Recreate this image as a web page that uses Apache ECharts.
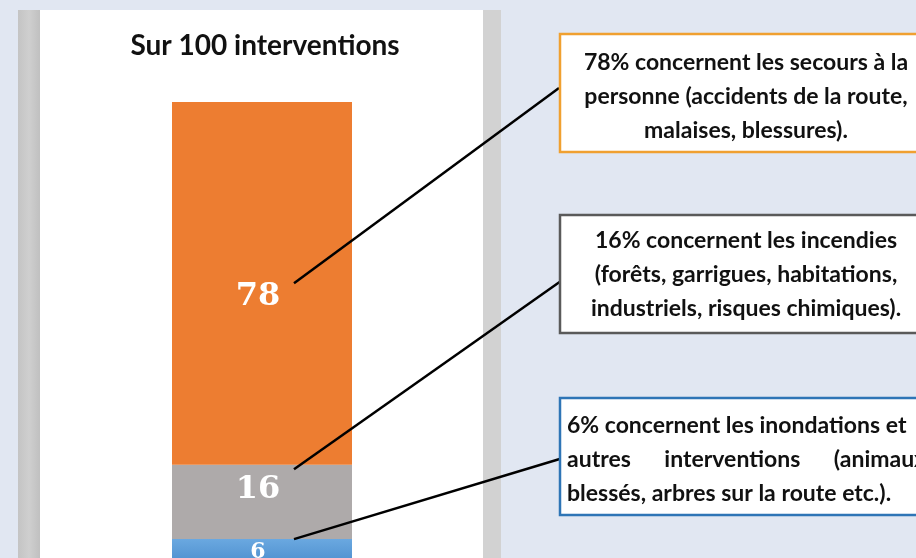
<!DOCTYPE html>
<html><head><meta charset="utf-8">
<script src="https://cdn.jsdelivr.net/npm/echarts@6/dist/echarts.min.js"></script>
<style>html,body{margin:0;padding:0;background:#e1e7f2;}#c{width:916px;height:558px;}</style>
</head><body><div id="c"></div>
<script>
const categories = ['Sur 100 interventions'];
const seriesNames = ['Inondations et autres', 'Incendies', 'Secours à la personne'];
const values = [6, 16, 78];
const colors = ['#5b9bd5', '#aeaaaa', '#ed7d31'];
const calloutTexts = [
  '78% concernent les secours à la\npersonne (accidents de la route,\nmalaises, blessures).',
  '16% concernent les incendies\n(forêts, garrigues, habitations,\nindustriels, risques chimiques).',
  '6% concernent les inondations et\nautres      interventions      (animaux\nblessés, arbres sur la route etc.).'
];

const chart = echarts.init(document.getElementById('c'), null, {renderer: 'canvas'});
const FONT = 'Lato, "Open Sans", sans-serif';
const labelOffsets = [[-4, -1], [-4, -12], [-4, 13]];
const series = values.map((v, i) => ({
  name: seriesNames[i], type: 'bar', stack: 'total', data: [v], barWidth: 180,
  itemStyle: { color: i === 0 ? new echarts.graphic.LinearGradient(0,0,0,1,[{offset:0,color:'#6aa8e0'},{offset:1,color:'#4a8ccc'}]) : colors[i] },
  label: { show: true, position: 'inside', offset: labelOffsets[i], color: '#fff',
           fontFamily: '"DejaVu Serif", serif', fontWeight: 'bold', fontSize: i === 0 ? 22 : 32,
           formatter: '{c}' },
  emphasis: { disabled: true }
}));

chart.setOption({
  animation: false,
  backgroundColor: '#e1e7f2',
  title: { text: categories[0], left: 260, top: 27, textAlign: 'center',
           textStyle: { fontFamily: FONT, fontSize: 28, fontWeight: 'bold', color: '#111' } },
  grid: { left: 172, top: 102, width: 180, height: 465, outerBoundsMode: 'none', containLabel: false },
  xAxis: { type: 'category', data: categories, show: false },
  yAxis: { type: 'value', min: 0, max: 100, show: false },
  series: series
});

const pStart = (val) => chart.convertToPixel({gridIndex: 0}, [0, val]);
const anchors = [
  pStart(values[0] + values[1] + values[2] / 2),
  pStart(values[0] + values[1] - 1),
  pStart(values[0])
];
const boxes = [
  {y: 34, h: 118, border: '#f0a030', end: [559, 88], align: 'center', dy: 4},
  {y: 215, h: 118, border: '#5a5a5a', end: [561, 281], align: 'center', dy: 1},
  {y: 398, h: 117, border: '#2e75b6', end: [563, 458], align: 'left', dy: 3}
];
const graphic = [
  {type: 'rect', z: -10, shape: {x: 18, y: 10, width: 22, height: 560},
   style: {fill: new echarts.graphic.LinearGradient(0,0,1,0,[{offset:0,color:'#c4c4c4'},{offset:0.5,color:'#cfcfcf'},{offset:1,color:'#c0c0c0'}])}},
  {type: 'rect', z: -10, shape: {x: 40, y: 10, width: 443, height: 560}, style: {fill: '#ffffff'}},
  {type: 'rect', z: -10, shape: {x: 483, y: 10, width: 18, height: 560}, style: {fill: '#d2d2d2'}}
];
boxes.forEach((b, i) => {
  const a = anchors[i];
  graphic.push({type: 'line', z: 100, shape: {x1: a[0] + 32, y1: a[1], x2: b.end[0], y2: b.end[1]},
                style: {stroke: '#000', lineWidth: 2.5}});
  graphic.push({type: 'rect', z: 100, shape: {x: 560, y: b.y, width: 372, height: b.h},
                style: {fill: '#fff', stroke: b.border, lineWidth: 2.5}});
  graphic.push({type: 'text', z: 101,
                x: b.align === 'center' ? 746 : 567, y: b.y + b.h / 2 + b.dy,
                style: {text: calloutTexts[i], fill: '#111', font: 'bold 23px ' + FONT,
                        align: b.align, verticalAlign: 'middle', lineHeight: 34}});
});
chart.setOption({graphic: graphic});
</script></body></html>
